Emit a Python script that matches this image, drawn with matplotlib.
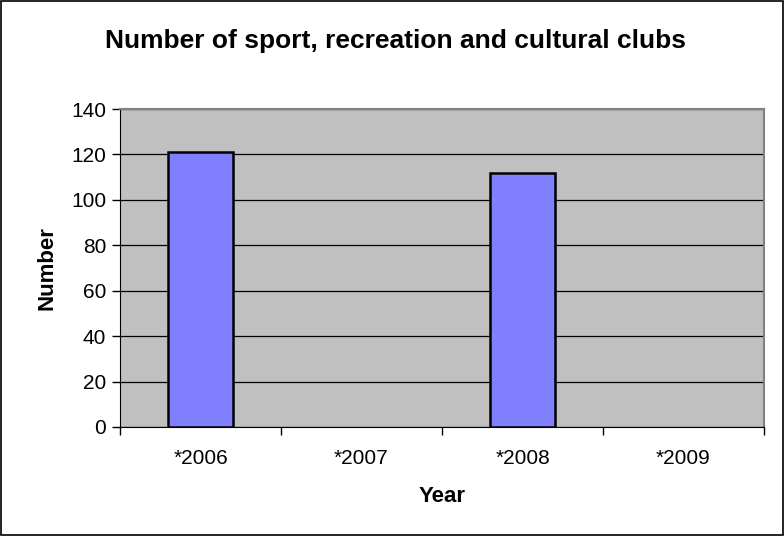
import numpy as np
import matplotlib.pyplot as plt
from matplotlib.patches import Rectangle

years = ["*2006", "*2007", "*2008", "*2009"]
clubs = [121, np.nan, 112, np.nan]
yticks = [0, 20, 40, 60, 80, 100, 120, 140]

plt.rcParams['font.family'] = ['Liberation Sans', 'DejaVu Sans']

fig = plt.figure(figsize=(7.84, 5.36), dpi=100)
ax = fig.add_axes([120/784, (536-427)/536, 644/784, 318/536])

x = np.arange(len(years))
vals = np.array(clubs, dtype=float)
has = ~np.isnan(vals)
ax.bar(x[has], vals[has], width=0.4, color="#8080FF",
       edgecolor="black", linewidth=1.8, zorder=3)

ax.set_facecolor("#C0C0C0")
ax.set_xlim(-0.5, len(years) - 0.5)
ax.set_ylim(0, 140)
ax.set_yticks(yticks)
ax.yaxis.grid(True, color="black", linewidth=0.9, zorder=1)
ax.set_axisbelow(True)

# category labels centered, tick marks between categories
ax.set_xticks(x)
ax.set_xticklabels(years, fontsize=15)
ax.set_xticks(np.arange(len(years) + 1) - 0.5, minor=True)
ax.tick_params(axis="x", which="major", length=0, pad=16)
ax.tick_params(axis="x", which="minor", length=6, color="black", width=1)
ax.tick_params(axis="y", length=6, width=1, labelsize=15, pad=4)

for side in ["top", "right"]:
    ax.spines[side].set_color("#808080")
    ax.spines[side].set_linewidth(1.5)
ax.spines["left"].set_color("black")
ax.spines["bottom"].set_color("black")

ax.set_xlabel("Year", fontsize=16, fontweight="bold", labelpad=13)
ax.set_ylabel("Number", fontsize=16, fontweight="bold", labelpad=10)

fig.text(0.504, 1 - 41/536, "Number of sport, recreation and cultural clubs",
         ha="center", va="center", fontsize=19, fontweight="bold")

fig.patches.append(Rectangle((0.001, 0.001), 0.998, 0.998, transform=fig.transFigure,
                             fill=False, edgecolor="black", linewidth=1.2))

fig.savefig("out.png", dpi=100)
